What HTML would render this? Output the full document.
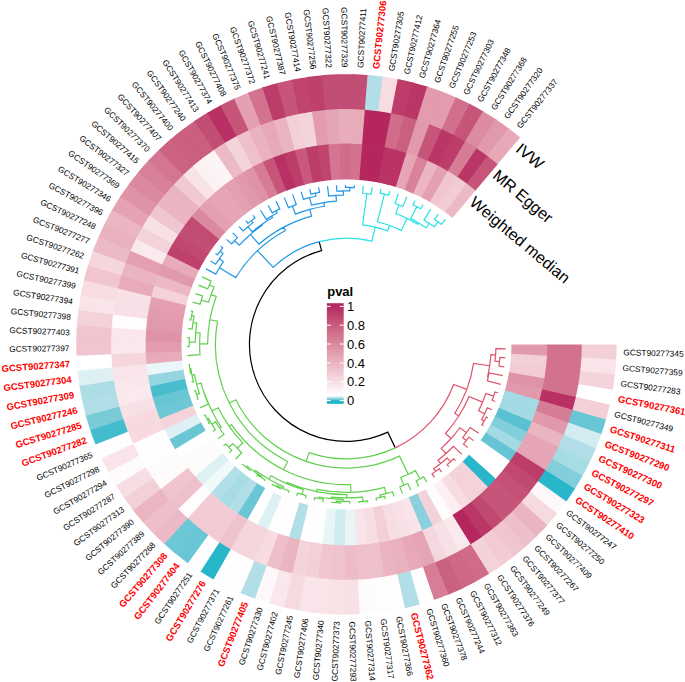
<!DOCTYPE html>
<html><head><meta charset="utf-8"><title>circos heatmap</title>
<style>
html,body{margin:0;padding:0;background:#fff;}
svg{display:block;font-family:"Liberation Sans",sans-serif;}
.l{font-size:8.35px;fill:#000;}
.r{font-size:9.5px;fill:#ff0000;font-weight:bold;}
.t{font-size:16.1px;fill:#000;}
.g{font-size:13px;fill:#000;}
</style></head><body>
<svg width="685" height="682" viewBox="0 0 685 682">
<rect width="685" height="682" fill="#fff"/>
<g transform="translate(346.45,344.4) scale(1,1)">
<g stroke="none">
<path d="M270.20,0.00A270.20,270.20 0 0 1 269.67,16.87L234.24,14.65A234.70,234.70 0 0 0 234.70,0.00Z" fill="#f3cfd7"/>
<path d="M269.77,15.22A270.20,270.20 0 0 1 268.29,32.03L233.04,27.82A234.70,234.70 0 0 0 234.33,13.22Z" fill="#f9e5e9"/>
<path d="M268.49,30.39A270.20,270.20 0 0 1 266.06,47.09L231.11,40.91A234.70,234.70 0 0 0 233.21,26.40Z" fill="#f4d4db"/>
<path d="M266.35,45.47A270.20,270.20 0 0 1 262.99,62.01L228.44,53.86A234.70,234.70 0 0 0 231.35,39.49Z" fill="#ffffff"/>
<path d="M263.36,60.40A270.20,270.20 0 0 1 259.08,76.72L225.04,66.64A234.70,234.70 0 0 0 228.76,52.46Z" fill="#f3cfd7"/>
<path d="M259.54,75.14A270.20,270.20 0 0 1 254.35,91.19L220.93,79.21A234.70,234.70 0 0 0 225.44,65.27Z" fill="#67c5d4"/>
<path d="M254.90,89.64A270.20,270.20 0 0 1 248.80,105.38L216.12,91.53A234.70,234.70 0 0 0 221.41,77.86Z" fill="#d2ecf1"/>
<path d="M249.44,103.85A270.20,270.20 0 0 1 242.47,119.22L210.62,103.56A234.70,234.70 0 0 0 216.67,90.21Z" fill="#b2dfe7"/>
<path d="M243.20,117.74A270.20,270.20 0 0 1 235.37,132.69L204.45,115.26A234.70,234.70 0 0 0 211.25,102.27Z" fill="#a8dce5"/>
<path d="M236.18,131.25A270.20,270.20 0 0 1 227.52,145.74L197.63,126.59A234.70,234.70 0 0 0 205.15,114.01Z" fill="#83cedb"/>
<path d="M228.41,144.35A270.20,270.20 0 0 1 218.95,158.33L190.19,137.52A234.70,234.70 0 0 0 198.40,125.38Z" fill="#28b7ca"/>
<path d="M219.92,156.99A270.20,270.20 0 0 1 209.69,170.41L182.14,148.02A234.70,234.70 0 0 0 191.02,136.36Z" fill="#fef8fa"/>
<path d="M210.72,169.12A270.20,270.20 0 0 1 199.76,181.95L173.51,158.04A234.70,234.70 0 0 0 183.04,146.90Z" fill="#f6dae0"/>
<path d="M200.86,180.73A270.20,270.20 0 0 1 189.19,192.91L164.33,167.57A234.70,234.70 0 0 0 174.47,156.98Z" fill="#eab4c1"/>
<path d="M190.36,191.75A270.20,270.20 0 0 1 178.02,203.26L154.63,176.56A234.70,234.70 0 0 0 165.35,166.56Z" fill="#eebec9"/>
<path d="M179.26,202.17A270.20,270.20 0 0 1 166.29,212.97L144.44,184.99A234.70,234.70 0 0 0 155.71,175.61Z" fill="#f0c5cf"/>
<path d="M167.59,211.95A270.20,270.20 0 0 1 154.03,222.00L133.79,192.83A234.70,234.70 0 0 0 145.57,184.10Z" fill="#f2cbd4"/>
<path d="M155.38,221.05A270.20,270.20 0 0 1 141.28,230.32L122.72,200.06A234.70,234.70 0 0 0 134.97,192.01Z" fill="#f4d2d9"/>
<path d="M142.68,229.45A270.20,270.20 0 0 1 128.08,237.91L111.25,206.66A234.70,234.70 0 0 0 123.94,199.31Z" fill="#d06c89"/>
<path d="M129.53,237.13A270.20,270.20 0 0 1 114.48,244.75L99.44,212.59A234.70,234.70 0 0 0 112.51,205.97Z" fill="#ce6886"/>
<path d="M115.97,244.05A270.20,270.20 0 0 1 100.51,250.81L87.30,217.86A234.70,234.70 0 0 0 100.73,211.98Z" fill="#cb6181"/>
<path d="M102.04,250.19A270.20,270.20 0 0 1 86.22,256.07L74.89,222.43A234.70,234.70 0 0 0 88.63,217.32Z" fill="#d77e96"/>
<path d="M87.78,255.54A270.20,270.20 0 0 1 71.66,260.52L62.24,226.30A234.70,234.70 0 0 0 76.25,221.97Z" fill="#fffefe"/>
<path d="M73.25,260.08A270.20,270.20 0 0 1 56.87,264.15L49.40,229.44A234.70,234.70 0 0 0 63.62,225.91Z" fill="#b2dfe7"/>
<path d="M58.48,263.80A270.20,270.20 0 0 1 41.90,266.93L36.39,231.86A234.70,234.70 0 0 0 50.80,229.14Z" fill="#fffdfd"/>
<path d="M43.53,266.67A270.20,270.20 0 0 1 26.80,268.87L23.28,233.54A234.70,234.70 0 0 0 37.81,231.63Z" fill="#fefcfc"/>
<path d="M28.44,268.70A270.20,270.20 0 0 1 11.61,269.95L10.08,234.48A234.70,234.70 0 0 0 24.70,233.40Z" fill="#fefbfb"/>
<path d="M13.26,269.87A270.20,270.20 0 0 1 -3.62,270.18L-3.14,234.68A234.70,234.70 0 0 0 11.52,234.42Z" fill="#f8e1e6"/>
<path d="M-1.96,270.19A270.20,270.20 0 0 1 -18.83,269.54L-16.35,234.13A234.70,234.70 0 0 0 -1.71,234.69Z" fill="#f8e3e7"/>
<path d="M-17.18,269.65A270.20,270.20 0 0 1 -33.98,268.05L-29.52,232.84A234.70,234.70 0 0 0 -14.92,234.23Z" fill="#f9e5e9"/>
<path d="M-32.34,268.26A270.20,270.20 0 0 1 -49.03,265.71L-42.59,230.80A234.70,234.70 0 0 0 -28.09,233.01Z" fill="#f9e5e9"/>
<path d="M-47.40,266.01A270.20,270.20 0 0 1 -63.92,262.53L-55.52,228.04A234.70,234.70 0 0 0 -41.18,231.06Z" fill="#f6dae0"/>
<path d="M-62.31,262.92A270.20,270.20 0 0 1 -78.60,258.51L-68.28,224.55A234.70,234.70 0 0 0 -54.13,228.37Z" fill="#f9e7eb"/>
<path d="M-77.02,258.99A270.20,270.20 0 0 1 -93.04,253.68L-80.82,220.35A234.70,234.70 0 0 0 -66.90,224.96Z" fill="#fef8fa"/>
<path d="M-91.49,254.24A270.20,270.20 0 0 1 -107.18,248.03L-93.10,215.44A234.70,234.70 0 0 0 -79.47,220.84Z" fill="#b2dfe7"/>
<path d="M-105.67,248.68A270.20,270.20 0 0 1 -120.98,241.60L-105.09,209.86A234.70,234.70 0 0 0 -91.78,216.01Z" fill="#fffdfd"/>
<path d="M-119.51,242.34A270.20,270.20 0 0 1 -134.40,234.40L-116.74,203.61A234.70,234.70 0 0 0 -103.81,210.50Z" fill="#fffefe"/>
<path d="M-132.97,235.22A270.20,270.20 0 0 1 -147.39,226.46L-128.03,196.71A234.70,234.70 0 0 0 -115.50,204.31Z" fill="#28b7ca"/>
<path d="M-146.01,227.35A270.20,270.20 0 0 1 -159.91,217.80L-138.90,189.18A234.70,234.70 0 0 0 -126.82,197.48Z" fill="#fffefe"/>
<path d="M-158.58,218.77A270.20,270.20 0 0 1 -171.93,208.44L-149.34,181.06A234.70,234.70 0 0 0 -137.75,190.03Z" fill="#6ac6d5"/>
<path d="M-170.65,209.49A270.20,270.20 0 0 1 -183.40,198.43L-159.30,172.36A234.70,234.70 0 0 0 -148.23,181.97Z" fill="#6ec7d6"/>
<path d="M-182.18,199.54A270.20,270.20 0 0 1 -194.28,187.78L-168.76,163.11A234.70,234.70 0 0 0 -158.25,173.33Z" fill="#ecbac6"/>
<path d="M-193.13,188.96A270.20,270.20 0 0 1 -204.55,176.54L-177.68,153.34A234.70,234.70 0 0 0 -167.76,164.14Z" fill="#eebec9"/>
<path d="M-203.47,177.79A270.20,270.20 0 0 1 -214.17,164.74L-186.03,143.09A234.70,234.70 0 0 0 -176.74,154.43Z" fill="#ebb6c2"/>
<path d="M-213.16,166.04A270.20,270.20 0 0 1 -223.11,152.41L-193.80,132.39A234.70,234.70 0 0 0 -185.16,144.23Z" fill="#f3cfd7"/>
<path d="M-222.18,153.77A270.20,270.20 0 0 1 -231.34,139.60L-200.95,121.26A234.70,234.70 0 0 0 -192.99,133.57Z" fill="#f7dee4"/>
<path d="M-230.49,141.01A270.20,270.20 0 0 1 -238.84,126.35L-207.46,109.75A234.70,234.70 0 0 0 -200.20,122.48Z" fill="#fefbfb"/>
<path d="M-238.06,127.80A270.20,270.20 0 0 1 -245.58,112.69L-213.31,97.89A234.70,234.70 0 0 0 -206.79,111.01Z" fill="#f9e5e9"/>
<path d="M-244.88,114.19A270.20,270.20 0 0 1 -251.54,98.68L-218.49,85.72A234.70,234.70 0 0 0 -212.71,99.19Z" fill="#fffefe"/>
<path d="M-250.93,100.22A270.20,270.20 0 0 1 -256.69,84.36L-222.97,73.27A234.70,234.70 0 0 0 -217.96,87.05Z" fill="#43bccd"/>
<path d="M-256.17,85.92A270.20,270.20 0 0 1 -261.04,69.76L-226.74,60.60A234.70,234.70 0 0 0 -222.52,74.63Z" fill="#79cbd8"/>
<path d="M-260.61,71.36A270.20,270.20 0 0 1 -264.55,54.95L-229.80,47.73A234.70,234.70 0 0 0 -226.37,61.98Z" fill="#b2dfe7"/>
<path d="M-264.21,56.56A270.20,270.20 0 0 1 -267.23,39.96L-232.12,34.71A234.70,234.70 0 0 0 -229.50,49.13Z" fill="#addee6"/>
<path d="M-266.98,41.59A270.20,270.20 0 0 1 -269.06,24.84L-233.71,21.58A234.70,234.70 0 0 0 -231.90,36.13Z" fill="#ddf1f4"/>
<path d="M-268.90,26.48A270.20,270.20 0 0 1 -270.03,9.65L-234.55,8.38A234.70,234.70 0 0 0 -233.57,23.00Z" fill="#ffffff"/>
<path d="M-269.96,11.30A270.20,270.20 0 0 1 -270.14,-5.58L-234.65,-4.85A234.70,234.70 0 0 0 -234.49,9.81Z" fill="#f0c5cf"/>
<path d="M-270.17,-3.93A270.20,270.20 0 0 1 -269.40,-20.79L-234.00,-18.06A234.70,234.70 0 0 0 -234.68,-3.41Z" fill="#f0c5cf"/>
<path d="M-269.52,-19.14A270.20,270.20 0 0 1 -267.80,-35.93L-232.62,-31.21A234.70,234.70 0 0 0 -234.11,-16.63Z" fill="#f4d2d9"/>
<path d="M-268.01,-34.29A270.20,270.20 0 0 1 -265.35,-50.96L-230.49,-44.26A234.70,234.70 0 0 0 -232.80,-29.79Z" fill="#f9e5e9"/>
<path d="M-265.66,-49.34A270.20,270.20 0 0 1 -262.06,-65.82L-227.63,-57.18A234.70,234.70 0 0 0 -230.75,-42.85Z" fill="#f7dce2"/>
<path d="M-262.46,-64.22A270.20,270.20 0 0 1 -257.94,-80.48L-224.05,-69.91A234.70,234.70 0 0 0 -227.97,-55.78Z" fill="#f0c5cf"/>
<path d="M-258.42,-78.90A270.20,270.20 0 0 1 -252.99,-94.88L-219.75,-82.42A234.70,234.70 0 0 0 -224.47,-68.54Z" fill="#f5d6dd"/>
<path d="M-253.57,-93.34A270.20,270.20 0 0 1 -247.25,-108.98L-214.76,-94.67A234.70,234.70 0 0 0 -220.25,-81.07Z" fill="#ecbac6"/>
<path d="M-247.91,-107.47A270.20,270.20 0 0 1 -240.71,-122.74L-209.09,-106.61A234.70,234.70 0 0 0 -215.34,-93.35Z" fill="#eab1bf"/>
<path d="M-241.46,-121.27A270.20,270.20 0 0 1 -233.42,-136.10L-202.75,-118.22A234.70,234.70 0 0 0 -209.74,-105.33Z" fill="#ebb6c2"/>
<path d="M-234.25,-134.67A270.20,270.20 0 0 1 -225.38,-149.04L-195.77,-129.45A234.70,234.70 0 0 0 -203.47,-116.98Z" fill="#e5a2b3"/>
<path d="M-226.29,-147.66A270.20,270.20 0 0 1 -216.63,-161.49L-188.17,-140.28A234.70,234.70 0 0 0 -196.56,-128.26Z" fill="#df93a7"/>
<path d="M-217.61,-160.17A270.20,270.20 0 0 1 -207.19,-173.44L-179.97,-150.65A234.70,234.70 0 0 0 -189.02,-139.12Z" fill="#db899f"/>
<path d="M-208.24,-172.17A270.20,270.20 0 0 1 -197.09,-184.84L-171.19,-160.55A234.70,234.70 0 0 0 -180.88,-149.55Z" fill="#d88098"/>
<path d="M-198.21,-183.63A270.20,270.20 0 0 1 -186.36,-195.64L-161.88,-169.94A234.70,234.70 0 0 0 -172.17,-159.50Z" fill="#d47691"/>
<path d="M-187.56,-194.50A270.20,270.20 0 0 1 -175.05,-205.83L-152.05,-178.79A234.70,234.70 0 0 0 -162.91,-168.95Z" fill="#cc6383"/>
<path d="M-176.30,-204.76A270.20,270.20 0 0 1 -163.17,-215.36L-141.74,-187.07A234.70,234.70 0 0 0 -153.14,-177.86Z" fill="#ca5f80"/>
<path d="M-164.49,-214.36A270.20,270.20 0 0 1 -150.78,-224.21L-130.97,-194.76A234.70,234.70 0 0 0 -142.88,-186.20Z" fill="#ca5f80"/>
<path d="M-152.15,-223.29A270.20,270.20 0 0 1 -137.91,-232.35L-119.80,-201.82A234.70,234.70 0 0 0 -132.16,-193.95Z" fill="#c34e75"/>
<path d="M-139.33,-231.51A270.20,270.20 0 0 1 -124.61,-239.75L-108.24,-208.25A234.70,234.70 0 0 0 -121.03,-201.09Z" fill="#b83064"/>
<path d="M-126.07,-238.99A270.20,270.20 0 0 1 -110.90,-246.39L-96.33,-214.02A234.70,234.70 0 0 0 -109.51,-207.59Z" fill="#c65579"/>
<path d="M-112.41,-245.71A270.20,270.20 0 0 1 -96.85,-252.25L-84.12,-219.11A234.70,234.70 0 0 0 -97.64,-213.43Z" fill="#e4a0b1"/>
<path d="M-98.39,-251.65A270.20,270.20 0 0 1 -82.49,-257.30L-71.65,-223.50A234.70,234.70 0 0 0 -85.46,-218.59Z" fill="#d2728e"/>
<path d="M-84.06,-256.79A270.20,270.20 0 0 1 -67.86,-261.54L-58.95,-227.18A234.70,234.70 0 0 0 -73.01,-223.05Z" fill="#bc3c6a"/>
<path d="M-69.46,-261.12A270.20,270.20 0 0 1 -53.02,-264.95L-46.06,-230.14A234.70,234.70 0 0 0 -60.33,-226.81Z" fill="#c65579"/>
<path d="M-54.64,-264.62A270.20,270.20 0 0 1 -38.01,-267.51L-33.02,-232.37A234.70,234.70 0 0 0 -47.46,-229.85Z" fill="#bf446e"/>
<path d="M-39.65,-267.28A270.20,270.20 0 0 1 -22.88,-269.23L-19.88,-233.86A234.70,234.70 0 0 0 -34.44,-232.16Z" fill="#be416d"/>
<path d="M-24.53,-269.08A270.20,270.20 0 0 1 -7.68,-270.09L-6.67,-234.61A234.70,234.70 0 0 0 -21.31,-233.73Z" fill="#c34e75"/>
<path d="M-9.33,-270.04A270.20,270.20 0 0 1 7.54,-270.09L6.55,-234.61A234.70,234.70 0 0 0 -8.11,-234.56Z" fill="#c34e75"/>
<path d="M5.89,-270.14A270.20,270.20 0 0 1 22.75,-269.24L19.76,-233.87A234.70,234.70 0 0 0 5.12,-234.64Z" fill="#c34e75"/>
<path d="M21.10,-269.37A270.20,270.20 0 0 1 37.88,-267.53L32.90,-232.38A234.70,234.70 0 0 0 18.33,-233.98Z" fill="#b2dfe7"/>
<path d="M36.24,-267.76A270.20,270.20 0 0 1 52.89,-264.97L45.94,-230.16A234.70,234.70 0 0 0 31.48,-232.58Z" fill="#f7dce2"/>
<path d="M51.27,-265.29A270.20,270.20 0 0 1 67.73,-261.57L58.83,-227.21A234.70,234.70 0 0 0 44.53,-230.44Z" fill="#bc3c6a"/>
<path d="M66.13,-261.98A270.20,270.20 0 0 1 82.36,-257.34L71.54,-223.53A234.70,234.70 0 0 0 57.44,-227.56Z" fill="#ba3667"/>
<path d="M80.78,-257.84A270.20,270.20 0 0 1 96.72,-252.30L84.01,-219.15A234.70,234.70 0 0 0 70.17,-223.97Z" fill="#e29cae"/>
<path d="M95.18,-252.88A270.20,270.20 0 0 1 110.78,-246.45L96.22,-214.07A234.70,234.70 0 0 0 82.67,-219.66Z" fill="#e29cae"/>
<path d="M109.27,-247.12A270.20,270.20 0 0 1 124.49,-239.82L108.13,-208.31A234.70,234.70 0 0 0 94.92,-214.65Z" fill="#d1708c"/>
<path d="M123.02,-240.57A270.20,270.20 0 0 1 137.80,-232.42L119.69,-201.89A234.70,234.70 0 0 0 106.86,-208.96Z" fill="#c65579"/>
<path d="M136.37,-233.26A270.20,270.20 0 0 1 150.67,-224.29L130.87,-194.82A234.70,234.70 0 0 0 118.46,-202.61Z" fill="#dc8ba0"/>
<path d="M149.30,-225.21A270.20,270.20 0 0 1 163.07,-215.45L141.64,-187.14A234.70,234.70 0 0 0 129.68,-195.62Z" fill="#e19aac"/>
<path d="M161.75,-216.44A270.20,270.20 0 0 1 173.68,-206.99L150.86,-179.79A234.70,234.70 0 0 0 140.50,-188.00Z" fill="#e7a9b8"/>
<path d="M235.30,0.00A235.30,235.30 0 0 1 234.84,14.69L199.81,12.50A200.20,200.20 0 0 0 200.20,0.00Z" fill="#d2728e"/>
<path d="M234.93,13.25A235.30,235.30 0 0 1 233.64,27.89L198.79,23.73A200.20,200.20 0 0 0 199.88,11.28Z" fill="#d2728e"/>
<path d="M233.81,26.47A235.30,235.30 0 0 1 231.70,41.01L197.14,34.89A200.20,200.20 0 0 0 198.93,22.52Z" fill="#d2728e"/>
<path d="M231.94,39.59A235.30,235.30 0 0 1 229.02,54.00L194.86,45.94A200.20,200.20 0 0 0 197.35,33.69Z" fill="#d2728e"/>
<path d="M229.35,52.60A235.30,235.30 0 0 1 225.62,66.81L191.96,56.85A200.20,200.20 0 0 0 195.13,44.75Z" fill="#b83064"/>
<path d="M226.02,65.43A235.30,235.30 0 0 1 221.49,79.42L188.45,67.57A200.20,200.20 0 0 0 192.30,55.67Z" fill="#d67c95"/>
<path d="M221.97,78.06A235.30,235.30 0 0 1 216.67,91.77L184.35,78.08A200.20,200.20 0 0 0 188.86,66.42Z" fill="#e19aac"/>
<path d="M217.22,90.44A235.30,235.30 0 0 1 211.16,103.82L179.66,88.34A200.20,200.20 0 0 0 184.82,76.95Z" fill="#eab4c1"/>
<path d="M211.79,102.53A235.30,235.30 0 0 1 204.97,115.55L174.40,98.32A200.20,200.20 0 0 0 180.19,87.24Z" fill="#e5a5b5"/>
<path d="M205.67,114.30A235.30,235.30 0 0 1 198.14,126.92L168.58,107.98A200.20,200.20 0 0 0 174.99,97.25Z" fill="#e5a5b5"/>
<path d="M198.91,125.70A235.30,235.30 0 0 1 190.67,137.88L162.23,117.31A200.20,200.20 0 0 0 169.24,106.95Z" fill="#bc3c6a"/>
<path d="M191.51,136.71A235.30,235.30 0 0 1 182.60,148.40L155.36,126.26A200.20,200.20 0 0 0 162.94,116.32Z" fill="#c14971"/>
<path d="M183.51,147.28A235.30,235.30 0 0 1 173.95,158.45L148.01,134.81A200.20,200.20 0 0 0 156.13,125.31Z" fill="#c45076"/>
<path d="M174.92,157.38A235.30,235.30 0 0 1 164.75,168.00L140.18,142.94A200.20,200.20 0 0 0 148.83,133.91Z" fill="#c65579"/>
<path d="M165.78,166.99A235.30,235.30 0 0 1 155.03,177.01L131.90,150.60A200.20,200.20 0 0 0 141.05,142.08Z" fill="#c65579"/>
<path d="M156.11,176.06A235.30,235.30 0 0 1 144.81,185.46L123.21,157.80A200.20,200.20 0 0 0 132.82,149.80Z" fill="#c14971"/>
<path d="M145.94,184.57A235.30,235.30 0 0 1 134.13,193.32L114.13,164.49A200.20,200.20 0 0 0 124.17,157.04Z" fill="#ba3667"/>
<path d="M135.31,192.50A235.30,235.30 0 0 1 123.03,200.57L104.68,170.65A200.20,200.20 0 0 0 115.13,163.79Z" fill="#b5265f"/>
<path d="M124.25,199.82A235.30,235.30 0 0 1 111.54,207.18L94.90,176.28A200.20,200.20 0 0 0 105.72,170.01Z" fill="#fae9ed"/>
<path d="M112.80,206.50A235.30,235.30 0 0 1 99.69,213.14L84.82,181.34A200.20,200.20 0 0 0 95.97,175.70Z" fill="#f8e1e6"/>
<path d="M100.99,212.53A235.30,235.30 0 0 1 87.53,218.42L74.47,185.83A200.20,200.20 0 0 0 85.93,180.82Z" fill="#f5d8df"/>
<path d="M88.86,217.88A235.30,235.30 0 0 1 75.08,223.00L63.88,189.73A200.20,200.20 0 0 0 75.60,185.38Z" fill="#e5a5b5"/>
<path d="M76.44,222.54A235.30,235.30 0 0 1 62.40,226.87L53.09,193.03A200.20,200.20 0 0 0 65.04,189.34Z" fill="#e7a9b8"/>
<path d="M63.79,226.49A235.30,235.30 0 0 1 49.52,230.03L42.14,195.72A200.20,200.20 0 0 0 54.27,192.70Z" fill="#eab1bf"/>
<path d="M50.93,229.72A235.30,235.30 0 0 1 36.49,232.45L31.04,197.78A200.20,200.20 0 0 0 43.33,195.45Z" fill="#eab4c1"/>
<path d="M37.91,232.23A235.30,235.30 0 0 1 23.34,234.14L19.85,199.21A200.20,200.20 0 0 0 32.25,197.58Z" fill="#eec0cb"/>
<path d="M24.77,233.99A235.30,235.30 0 0 1 10.11,235.08L8.60,200.02A200.20,200.20 0 0 0 21.07,199.09Z" fill="#eec0cb"/>
<path d="M11.55,235.02A235.30,235.30 0 0 1 -3.15,235.28L-2.68,200.18A200.20,200.20 0 0 0 9.82,199.96Z" fill="#edbcc8"/>
<path d="M-1.71,235.29A235.30,235.30 0 0 1 -16.40,234.73L-13.95,199.71A200.20,200.20 0 0 0 -1.46,200.19Z" fill="#efc3cd"/>
<path d="M-14.96,234.82A235.30,235.30 0 0 1 -29.59,233.43L-25.18,198.61A200.20,200.20 0 0 0 -12.73,199.79Z" fill="#f0c5cf"/>
<path d="M-28.17,233.61A235.30,235.30 0 0 1 -42.69,231.39L-36.33,196.88A200.20,200.20 0 0 0 -23.96,198.76Z" fill="#f3cfd7"/>
<path d="M-41.28,231.65A235.30,235.30 0 0 1 -55.66,228.62L-47.36,194.52A200.20,200.20 0 0 0 -35.12,197.09Z" fill="#f4d4db"/>
<path d="M-54.26,228.96A235.30,235.30 0 0 1 -68.45,225.12L-58.24,191.54A200.20,200.20 0 0 0 -46.17,194.80Z" fill="#eab4c1"/>
<path d="M-67.07,225.54A235.30,235.30 0 0 1 -81.02,220.91L-68.94,187.96A200.20,200.20 0 0 0 -57.07,191.89Z" fill="#eebec9"/>
<path d="M-79.67,221.40A235.30,235.30 0 0 1 -93.34,216.00L-79.42,183.77A200.20,200.20 0 0 0 -67.79,188.37Z" fill="#f7dce2"/>
<path d="M-92.02,216.56A235.30,235.30 0 0 1 -105.36,210.39L-89.64,179.01A200.20,200.20 0 0 0 -78.29,184.26Z" fill="#f5d6dd"/>
<path d="M-104.07,211.03A235.30,235.30 0 0 1 -117.04,204.13L-99.58,173.68A200.20,200.20 0 0 0 -88.55,179.55Z" fill="#f5d6dd"/>
<path d="M-115.79,204.84A235.30,235.30 0 0 1 -128.35,197.21L-109.21,167.79A200.20,200.20 0 0 0 -98.52,174.28Z" fill="#efc3cd"/>
<path d="M-127.15,197.99A235.30,235.30 0 0 1 -139.26,189.67L-118.49,161.37A200.20,200.20 0 0 0 -108.18,168.45Z" fill="#f2cbd4"/>
<path d="M-138.10,190.51A235.30,235.30 0 0 1 -149.72,181.52L-127.39,154.44A200.20,200.20 0 0 0 -117.50,162.09Z" fill="#f2cbd4"/>
<path d="M-148.61,182.43A235.30,235.30 0 0 1 -159.71,172.80L-135.89,147.02A200.20,200.20 0 0 0 -126.44,155.22Z" fill="#f2cbd4"/>
<path d="M-158.65,173.77A235.30,235.30 0 0 1 -169.19,163.53L-143.95,139.13A200.20,200.20 0 0 0 -134.98,147.85Z" fill="#fefcfc"/>
<path d="M-168.19,164.56A235.30,235.30 0 0 1 -178.13,153.74L-151.56,130.80A200.20,200.20 0 0 0 -143.10,140.01Z" fill="#eec0cb"/>
<path d="M-177.19,154.82A235.30,235.30 0 0 1 -186.51,143.46L-158.69,122.06A200.20,200.20 0 0 0 -150.76,131.73Z" fill="#f0c5cf"/>
<path d="M-185.63,144.60A235.30,235.30 0 0 1 -194.29,132.72L-165.31,112.93A200.20,200.20 0 0 0 -157.94,123.03Z" fill="#fefbfb"/>
<path d="M-193.48,133.91A235.30,235.30 0 0 1 -201.46,121.57L-171.41,103.43A200.20,200.20 0 0 0 -164.62,113.93Z" fill="#fefbfb"/>
<path d="M-200.72,122.80A235.30,235.30 0 0 1 -207.99,110.03L-176.96,93.62A200.20,200.20 0 0 0 -170.77,104.48Z" fill="#fffdfd"/>
<path d="M-207.31,111.30A235.30,235.30 0 0 1 -213.86,98.14L-181.96,83.50A200.20,200.20 0 0 0 -176.39,94.69Z" fill="#fffefe"/>
<path d="M-213.25,99.44A235.30,235.30 0 0 1 -219.05,85.94L-186.37,73.12A200.20,200.20 0 0 0 -181.44,84.61Z" fill="#f6dae0"/>
<path d="M-218.52,87.27A235.30,235.30 0 0 1 -223.54,73.46L-190.19,62.50A200.20,200.20 0 0 0 -185.92,74.25Z" fill="#f6dae0"/>
<path d="M-223.09,74.82A235.30,235.30 0 0 1 -227.32,60.75L-193.41,51.69A200.20,200.20 0 0 0 -189.81,63.66Z" fill="#f8e1e6"/>
<path d="M-226.95,62.14A235.30,235.30 0 0 1 -230.38,47.85L-196.02,40.71A200.20,200.20 0 0 0 -193.09,52.87Z" fill="#fae9ed"/>
<path d="M-230.09,49.26A235.30,235.30 0 0 1 -232.71,34.80L-198.00,29.61A200.20,200.20 0 0 0 -195.76,41.91Z" fill="#f9e7eb"/>
<path d="M-232.50,36.22A235.30,235.30 0 0 1 -234.30,21.63L-199.35,18.41A200.20,200.20 0 0 0 -197.81,30.81Z" fill="#f9e5e9"/>
<path d="M-234.17,23.06A235.30,235.30 0 0 1 -235.15,8.40L-200.07,7.15A200.20,200.20 0 0 0 -199.24,19.62Z" fill="#f5d6dd"/>
<path d="M-235.09,9.84A235.30,235.30 0 0 1 -235.25,-4.86L-200.16,-4.13A200.20,200.20 0 0 0 -200.02,8.37Z" fill="#f9e7eb"/>
<path d="M-235.28,-3.42A235.30,235.30 0 0 1 -234.60,-18.10L-199.61,-15.40A200.20,200.20 0 0 0 -200.18,-2.91Z" fill="#f9e7eb"/>
<path d="M-234.71,-16.67A235.30,235.30 0 0 1 -233.21,-31.29L-198.42,-26.62A200.20,200.20 0 0 0 -199.70,-14.18Z" fill="#fefcfc"/>
<path d="M-233.40,-29.86A235.30,235.30 0 0 1 -231.08,-44.38L-196.61,-37.76A200.20,200.20 0 0 0 -198.58,-25.41Z" fill="#f8e1e6"/>
<path d="M-231.34,-42.96A235.30,235.30 0 0 1 -228.21,-57.32L-194.17,-48.77A200.20,200.20 0 0 0 -196.83,-36.56Z" fill="#f8e1e6"/>
<path d="M-228.56,-55.93A235.30,235.30 0 0 1 -224.62,-70.09L-191.11,-59.63A200.20,200.20 0 0 0 -194.46,-47.58Z" fill="#e7abba"/>
<path d="M-225.04,-68.71A235.30,235.30 0 0 1 -220.31,-82.63L-187.45,-70.30A200.20,200.20 0 0 0 -191.47,-58.46Z" fill="#eab4c1"/>
<path d="M-220.82,-81.28A235.30,235.30 0 0 1 -215.31,-94.91L-183.19,-80.75A200.20,200.20 0 0 0 -187.88,-69.16Z" fill="#e4a0b1"/>
<path d="M-215.89,-93.59A235.30,235.30 0 0 1 -209.62,-106.88L-178.35,-90.94A200.20,200.20 0 0 0 -183.68,-79.63Z" fill="#fae9ed"/>
<path d="M-210.27,-105.60A235.30,235.30 0 0 1 -203.27,-118.52L-172.95,-100.84A200.20,200.20 0 0 0 -178.91,-89.85Z" fill="#f4d2d9"/>
<path d="M-203.99,-117.28A235.30,235.30 0 0 1 -196.27,-129.79L-166.99,-110.42A200.20,200.20 0 0 0 -173.56,-99.78Z" fill="#f8e1e6"/>
<path d="M-197.06,-128.58A235.30,235.30 0 0 1 -188.65,-140.63L-160.51,-119.66A200.20,200.20 0 0 0 -167.66,-109.40Z" fill="#f0c7d0"/>
<path d="M-189.50,-139.48A235.30,235.30 0 0 1 -180.43,-151.04L-153.51,-128.51A200.20,200.20 0 0 0 -161.23,-118.67Z" fill="#ebb6c2"/>
<path d="M-181.35,-149.93A235.30,235.30 0 0 1 -171.63,-160.96L-146.03,-136.95A200.20,200.20 0 0 0 -154.29,-127.57Z" fill="#eab4c1"/>
<path d="M-172.61,-159.91A235.30,235.30 0 0 1 -162.29,-170.37L-138.08,-144.96A200.20,200.20 0 0 0 -146.86,-136.06Z" fill="#f1c9d2"/>
<path d="M-163.33,-169.38A235.30,235.30 0 0 1 -152.44,-179.25L-129.70,-152.51A200.20,200.20 0 0 0 -138.97,-144.11Z" fill="#f8e3e7"/>
<path d="M-153.53,-178.31A235.30,235.30 0 0 1 -142.10,-187.55L-120.90,-159.57A200.20,200.20 0 0 0 -130.63,-151.71Z" fill="#fcf2f4"/>
<path d="M-143.24,-186.68A235.30,235.30 0 0 1 -131.31,-195.25L-111.72,-166.13A200.20,200.20 0 0 0 -121.87,-158.83Z" fill="#fdf4f6"/>
<path d="M-132.50,-194.45A235.30,235.30 0 0 1 -120.10,-202.34L-102.19,-172.16A200.20,200.20 0 0 0 -112.73,-165.44Z" fill="#ecbac6"/>
<path d="M-121.34,-201.60A235.30,235.30 0 0 1 -108.51,-208.78L-92.33,-177.64A200.20,200.20 0 0 0 -103.24,-171.53Z" fill="#f4d4db"/>
<path d="M-109.79,-208.12A235.30,235.30 0 0 1 -96.58,-214.57L-82.17,-182.56A200.20,200.20 0 0 0 -93.41,-177.07Z" fill="#eec0cb"/>
<path d="M-97.89,-213.97A235.30,235.30 0 0 1 -84.34,-219.67L-71.76,-186.90A200.20,200.20 0 0 0 -83.29,-182.05Z" fill="#eab1bf"/>
<path d="M-85.68,-219.15A235.30,235.30 0 0 1 -71.83,-224.07L-61.12,-190.64A200.20,200.20 0 0 0 -72.90,-186.46Z" fill="#e7a9b8"/>
<path d="M-73.20,-223.62A235.30,235.30 0 0 1 -59.10,-227.76L-50.28,-193.78A200.20,200.20 0 0 0 -62.28,-190.27Z" fill="#eab4c1"/>
<path d="M-60.49,-227.39A235.30,235.30 0 0 1 -46.17,-230.73L-39.29,-196.31A200.20,200.20 0 0 0 -51.46,-193.47Z" fill="#f3cfd7"/>
<path d="M-47.58,-230.44A235.30,235.30 0 0 1 -33.10,-232.96L-28.17,-198.21A200.20,200.20 0 0 0 -40.48,-196.06Z" fill="#f4d4db"/>
<path d="M-34.53,-232.75A235.30,235.30 0 0 1 -19.93,-234.45L-16.96,-199.48A200.20,200.20 0 0 0 -29.38,-198.03Z" fill="#e29cae"/>
<path d="M-21.36,-234.33A235.30,235.30 0 0 1 -6.69,-235.20L-5.69,-200.12A200.20,200.20 0 0 0 -18.17,-199.37Z" fill="#e5a5b5"/>
<path d="M-8.13,-235.16A235.30,235.30 0 0 1 6.57,-235.21L5.59,-200.12A200.20,200.20 0 0 0 -6.91,-200.08Z" fill="#e8adbb"/>
<path d="M5.13,-235.24A235.30,235.30 0 0 1 19.81,-234.46L16.85,-199.49A200.20,200.20 0 0 0 4.37,-200.15Z" fill="#e7abba"/>
<path d="M18.38,-234.58A235.30,235.30 0 0 1 32.98,-232.98L28.06,-198.22A200.20,200.20 0 0 0 15.63,-199.59Z" fill="#b5265f"/>
<path d="M31.56,-233.17A235.30,235.30 0 0 1 46.06,-230.75L39.19,-196.33A200.20,200.20 0 0 0 26.85,-198.39Z" fill="#b5265f"/>
<path d="M44.65,-231.03A235.30,235.30 0 0 1 58.98,-227.79L50.18,-193.81A200.20,200.20 0 0 0 37.99,-196.56Z" fill="#d06d8a"/>
<path d="M57.59,-228.14A235.30,235.30 0 0 1 71.72,-224.10L61.02,-190.67A200.20,200.20 0 0 0 49.00,-194.11Z" fill="#ca5f80"/>
<path d="M70.35,-224.54A235.30,235.30 0 0 1 84.23,-219.71L71.66,-186.93A200.20,200.20 0 0 0 59.85,-191.04Z" fill="#e19aac"/>
<path d="M82.88,-220.22A235.30,235.30 0 0 1 96.47,-214.61L82.08,-182.60A200.20,200.20 0 0 0 70.52,-187.37Z" fill="#c65579"/>
<path d="M95.16,-215.20A235.30,235.30 0 0 1 108.41,-208.84L92.24,-177.69A200.20,200.20 0 0 0 80.96,-183.10Z" fill="#ba3667"/>
<path d="M107.13,-209.50A235.30,235.30 0 0 1 120.00,-202.40L102.10,-172.21A200.20,200.20 0 0 0 91.15,-178.25Z" fill="#bc3c6a"/>
<path d="M118.76,-203.13A235.30,235.30 0 0 1 131.21,-195.32L111.64,-166.18A200.20,200.20 0 0 0 101.04,-172.83Z" fill="#d67c95"/>
<path d="M130.01,-196.12A235.30,235.30 0 0 1 142.00,-187.62L120.82,-159.63A200.20,200.20 0 0 0 110.62,-166.86Z" fill="#ba3667"/>
<path d="M140.85,-188.48A235.30,235.30 0 0 1 151.25,-180.25L128.69,-153.36A200.20,200.20 0 0 0 119.84,-160.37Z" fill="#c65579"/>
<path d="M200.80,0.00A200.80,200.80 0 0 1 200.41,12.54L164.68,10.30A165.00,165.00 0 0 0 165.00,0.00Z" fill="#e19aac"/>
<path d="M200.48,11.31A200.80,200.80 0 0 1 199.38,23.80L163.84,19.56A165.00,165.00 0 0 0 164.74,9.29Z" fill="#f3cfd7"/>
<path d="M199.53,22.59A200.80,200.80 0 0 1 197.73,35.00L162.47,28.76A165.00,165.00 0 0 0 163.95,18.56Z" fill="#f2cbd4"/>
<path d="M197.94,33.79A200.80,200.80 0 0 1 195.44,46.08L160.60,37.86A165.00,165.00 0 0 0 162.65,27.77Z" fill="#df93a7"/>
<path d="M195.72,44.89A200.80,200.80 0 0 1 192.54,57.02L158.21,46.85A165.00,165.00 0 0 0 160.82,36.88Z" fill="#e19aac"/>
<path d="M192.88,55.84A200.80,200.80 0 0 1 189.02,67.77L155.32,55.69A165.00,165.00 0 0 0 158.49,45.88Z" fill="#a3dae3"/>
<path d="M189.43,66.62A200.80,200.80 0 0 1 184.90,78.31L151.93,64.35A165.00,165.00 0 0 0 155.66,54.74Z" fill="#a3dae3"/>
<path d="M185.37,77.18A200.80,200.80 0 0 1 180.20,88.60L148.07,72.81A165.00,165.00 0 0 0 152.33,63.42Z" fill="#59c1d1"/>
<path d="M180.73,87.50A200.80,200.80 0 0 1 174.92,98.61L143.73,81.03A165.00,165.00 0 0 0 148.51,71.90Z" fill="#83cedb"/>
<path d="M175.52,97.54A200.80,200.80 0 0 1 169.09,108.31L138.94,89.00A165.00,165.00 0 0 0 144.22,80.15Z" fill="#a3dae3"/>
<path d="M169.74,107.27A200.80,200.80 0 0 1 162.72,117.66L133.71,96.68A165.00,165.00 0 0 0 139.48,88.15Z" fill="#64c4d3"/>
<path d="M163.43,116.66A200.80,200.80 0 0 1 155.83,126.64L128.05,104.06A165.00,165.00 0 0 0 134.29,95.86Z" fill="#ffffff"/>
<path d="M156.60,125.69A200.80,200.80 0 0 1 148.45,135.22L121.98,111.11A165.00,165.00 0 0 0 128.68,103.28Z" fill="#ffffff"/>
<path d="M149.27,134.31A200.80,200.80 0 0 1 140.60,143.36L115.53,117.80A165.00,165.00 0 0 0 122.66,110.36Z" fill="#28b7ca"/>
<path d="M141.47,142.50A200.80,200.80 0 0 1 132.30,151.06L108.71,124.12A165.00,165.00 0 0 0 116.25,117.10Z" fill="#f4d2d9"/>
<path d="M133.22,150.25A200.80,200.80 0 0 1 123.58,158.27L101.55,130.05A165.00,165.00 0 0 0 109.47,123.46Z" fill="#f4d2d9"/>
<path d="M124.54,157.51A200.80,200.80 0 0 1 114.47,164.98L94.06,135.56A165.00,165.00 0 0 0 102.34,129.43Z" fill="#f7dce2"/>
<path d="M115.47,164.28A200.80,200.80 0 0 1 104.99,171.16L86.27,140.65A165.00,165.00 0 0 0 94.89,134.99Z" fill="#fcf0f2"/>
<path d="M106.04,170.52A200.80,200.80 0 0 1 95.18,176.81L78.21,145.28A165.00,165.00 0 0 0 87.13,140.12Z" fill="#fefcfc"/>
<path d="M96.26,176.22A200.80,200.80 0 0 1 85.07,181.89L69.91,149.46A165.00,165.00 0 0 0 79.10,144.80Z" fill="#f4d2d9"/>
<path d="M86.18,181.36A200.80,200.80 0 0 1 74.69,186.39L61.38,153.16A165.00,165.00 0 0 0 70.82,149.03Z" fill="#8bd1dd"/>
<path d="M75.83,185.93A200.80,200.80 0 0 1 64.07,190.30L52.65,156.37A165.00,165.00 0 0 0 62.31,152.78Z" fill="#f9e5e9"/>
<path d="M65.24,189.91A200.80,200.80 0 0 1 53.25,193.61L43.76,159.09A165.00,165.00 0 0 0 53.61,156.05Z" fill="#f8e1e6"/>
<path d="M54.43,193.28A200.80,200.80 0 0 1 42.26,196.30L34.73,161.30A165.00,165.00 0 0 0 44.73,158.82Z" fill="#f7dee4"/>
<path d="M43.46,196.04A200.80,200.80 0 0 1 31.14,198.37L25.59,163.00A165.00,165.00 0 0 0 35.71,161.09Z" fill="#f3cfd7"/>
<path d="M32.35,198.18A200.80,200.80 0 0 1 19.91,199.81L16.36,164.19A165.00,165.00 0 0 0 26.58,162.84Z" fill="#f7dee4"/>
<path d="M21.13,199.68A200.80,200.80 0 0 1 8.63,200.61L7.09,164.85A165.00,165.00 0 0 0 17.37,164.08Z" fill="#f9e5e9"/>
<path d="M9.85,200.56A200.80,200.80 0 0 1 -2.69,200.78L-2.21,164.99A165.00,165.00 0 0 0 8.10,164.80Z" fill="#e7f5f7"/>
<path d="M-1.46,200.79A200.80,200.80 0 0 1 -13.99,200.31L-11.50,164.60A165.00,165.00 0 0 0 -1.20,165.00Z" fill="#ceebf0"/>
<path d="M-12.77,200.39A200.80,200.80 0 0 1 -25.25,199.21L-20.75,163.69A165.00,165.00 0 0 0 -10.49,164.67Z" fill="#e7f5f7"/>
<path d="M-24.04,199.36A200.80,200.80 0 0 1 -36.43,197.47L-29.94,162.26A165.00,165.00 0 0 0 -19.75,163.81Z" fill="#ffffff"/>
<path d="M-35.23,197.69A200.80,200.80 0 0 1 -47.50,195.10L-39.03,160.32A165.00,165.00 0 0 0 -28.95,162.44Z" fill="#fffefe"/>
<path d="M-46.31,195.39A200.80,200.80 0 0 1 -58.41,192.12L-48.00,157.86A165.00,165.00 0 0 0 -38.05,160.55Z" fill="#b2dfe7"/>
<path d="M-57.24,192.47A200.80,200.80 0 0 1 -69.14,188.52L-56.82,154.91A165.00,165.00 0 0 0 -47.04,158.15Z" fill="#fffefe"/>
<path d="M-67.99,188.94A200.80,200.80 0 0 1 -79.65,184.33L-65.45,151.46A165.00,165.00 0 0 0 -55.87,155.25Z" fill="#fffefe"/>
<path d="M-78.53,184.81A200.80,200.80 0 0 1 -89.91,179.55L-73.88,147.54A165.00,165.00 0 0 0 -64.53,151.86Z" fill="#ddf1f4"/>
<path d="M-88.81,180.09A200.80,200.80 0 0 1 -99.88,174.20L-82.07,143.14A165.00,165.00 0 0 0 -72.98,147.98Z" fill="#ffffff"/>
<path d="M-98.82,174.80A200.80,200.80 0 0 1 -109.53,168.29L-90.01,138.29A165.00,165.00 0 0 0 -81.20,143.64Z" fill="#6ac6d5"/>
<path d="M-108.50,168.96A200.80,200.80 0 0 1 -118.84,161.86L-97.65,133.00A165.00,165.00 0 0 0 -89.16,138.84Z" fill="#b2dfe7"/>
<path d="M-117.85,162.58A200.80,200.80 0 0 1 -127.77,154.91L-104.99,127.29A165.00,165.00 0 0 0 -96.84,133.59Z" fill="#a8dce5"/>
<path d="M-126.82,155.68A200.80,200.80 0 0 1 -136.29,147.46L-111.99,121.17A165.00,165.00 0 0 0 -104.21,127.93Z" fill="#b2dfe7"/>
<path d="M-135.39,148.29A200.80,200.80 0 0 1 -144.38,139.55L-118.64,114.67A165.00,165.00 0 0 0 -111.25,121.85Z" fill="#f1f9fb"/>
<path d="M-143.53,140.43A200.80,200.80 0 0 1 -152.01,131.20L-124.91,107.81A165.00,165.00 0 0 0 -117.94,115.39Z" fill="#ddf1f4"/>
<path d="M-151.21,132.12A200.80,200.80 0 0 1 -159.16,122.42L-130.79,100.60A165.00,165.00 0 0 0 -124.25,108.57Z" fill="#fefbfb"/>
<path d="M-158.41,123.39A200.80,200.80 0 0 1 -165.81,113.26L-136.25,93.07A165.00,165.00 0 0 0 -130.17,101.39Z" fill="#fefbfb"/>
<path d="M-165.11,114.28A200.80,200.80 0 0 1 -171.92,103.74L-141.27,85.25A165.00,165.00 0 0 0 -135.67,93.90Z" fill="#ffffff"/>
<path d="M-171.29,104.79A200.80,200.80 0 0 1 -177.49,93.90L-145.85,77.16A165.00,165.00 0 0 0 -140.75,86.11Z" fill="#6ac6d5"/>
<path d="M-176.92,94.98A200.80,200.80 0 0 1 -182.50,83.75L-149.96,68.82A165.00,165.00 0 0 0 -145.38,78.04Z" fill="#ddf1f4"/>
<path d="M-181.99,84.86A200.80,200.80 0 0 1 -186.93,73.34L-153.60,60.26A165.00,165.00 0 0 0 -149.54,69.73Z" fill="#f4d4db"/>
<path d="M-186.48,74.48A200.80,200.80 0 0 1 -190.76,62.69L-156.75,51.51A165.00,165.00 0 0 0 -153.23,61.20Z" fill="#6ec7d6"/>
<path d="M-190.38,63.85A200.80,200.80 0 0 1 -193.99,51.84L-159.41,42.60A165.00,165.00 0 0 0 -156.44,52.47Z" fill="#67c5d4"/>
<path d="M-193.67,53.03A200.80,200.80 0 0 1 -196.60,40.83L-161.55,33.55A165.00,165.00 0 0 0 -159.14,43.57Z" fill="#48bdce"/>
<path d="M-196.35,42.03A200.80,200.80 0 0 1 -198.59,29.69L-163.19,24.40A165.00,165.00 0 0 0 -161.34,34.54Z" fill="#95d5e0"/>
<path d="M-198.41,30.91A200.80,200.80 0 0 1 -199.95,18.46L-164.30,15.17A165.00,165.00 0 0 0 -163.03,25.40Z" fill="#eaf6f9"/>
<path d="M-199.83,19.68A200.80,200.80 0 0 1 -200.67,7.17L-164.89,5.89A165.00,165.00 0 0 0 -164.21,16.17Z" fill="#e7abba"/>
<path d="M-200.62,8.39A200.80,200.80 0 0 1 -200.76,-4.15L-164.96,-3.41A165.00,165.00 0 0 0 -164.86,6.90Z" fill="#e29cae"/>
<path d="M-200.78,-2.92A200.80,200.80 0 0 1 -200.20,-15.45L-164.51,-12.69A165.00,165.00 0 0 0 -164.98,-2.40Z" fill="#df93a7"/>
<path d="M-200.30,-14.23A200.80,200.80 0 0 1 -199.02,-26.70L-163.53,-21.94A165.00,165.00 0 0 0 -164.59,-11.69Z" fill="#e19aac"/>
<path d="M-199.18,-25.49A200.80,200.80 0 0 1 -197.20,-37.87L-162.04,-31.12A165.00,165.00 0 0 0 -163.67,-20.94Z" fill="#e29cae"/>
<path d="M-197.42,-36.66A200.80,200.80 0 0 1 -194.75,-48.92L-160.03,-40.20A165.00,165.00 0 0 0 -162.23,-30.13Z" fill="#e4a0b1"/>
<path d="M-195.05,-47.73A200.80,200.80 0 0 1 -191.69,-59.81L-157.51,-49.15A165.00,165.00 0 0 0 -160.27,-39.22Z" fill="#f4d2d9"/>
<path d="M-192.05,-58.64A200.80,200.80 0 0 1 -188.01,-70.51L-154.49,-57.94A165.00,165.00 0 0 0 -157.81,-48.18Z" fill="#ecb8c4"/>
<path d="M-188.44,-69.36A200.80,200.80 0 0 1 -183.74,-80.99L-150.98,-66.55A165.00,165.00 0 0 0 -154.84,-57.00Z" fill="#e19aac"/>
<path d="M-184.23,-79.87A200.80,200.80 0 0 1 -178.89,-91.21L-146.99,-74.95A165.00,165.00 0 0 0 -151.39,-65.63Z" fill="#e7abba"/>
<path d="M-179.44,-90.12A200.80,200.80 0 0 1 -173.47,-101.15L-142.54,-83.11A165.00,165.00 0 0 0 -147.45,-74.05Z" fill="#be416d"/>
<path d="M-174.08,-100.08A200.80,200.80 0 0 1 -167.49,-110.76L-137.63,-91.01A165.00,165.00 0 0 0 -143.04,-82.24Z" fill="#c14971"/>
<path d="M-168.17,-109.73A200.80,200.80 0 0 1 -160.99,-120.01L-132.29,-98.62A165.00,165.00 0 0 0 -138.18,-90.17Z" fill="#c34e75"/>
<path d="M-161.72,-119.03A200.80,200.80 0 0 1 -153.97,-128.89L-126.52,-105.91A165.00,165.00 0 0 0 -132.89,-97.81Z" fill="#c24b73"/>
<path d="M-154.76,-127.95A200.80,200.80 0 0 1 -146.47,-137.36L-120.35,-112.87A165.00,165.00 0 0 0 -127.17,-105.14Z" fill="#db899f"/>
<path d="M-147.30,-136.46A200.80,200.80 0 0 1 -138.50,-145.39L-113.80,-119.47A165.00,165.00 0 0 0 -121.04,-112.13Z" fill="#e4a0b1"/>
<path d="M-139.38,-144.54A200.80,200.80 0 0 1 -130.09,-152.96L-106.89,-125.69A165.00,165.00 0 0 0 -114.53,-118.77Z" fill="#e5a5b5"/>
<path d="M-131.02,-152.17A200.80,200.80 0 0 1 -121.26,-160.05L-99.64,-131.51A165.00,165.00 0 0 0 -107.66,-125.04Z" fill="#e5a5b5"/>
<path d="M-122.24,-159.31A200.80,200.80 0 0 1 -112.06,-166.63L-92.08,-136.92A165.00,165.00 0 0 0 -100.45,-130.90Z" fill="#e4a0b1"/>
<path d="M-113.07,-165.94A200.80,200.80 0 0 1 -102.49,-172.67L-84.22,-141.89A165.00,165.00 0 0 0 -92.91,-136.35Z" fill="#e19aac"/>
<path d="M-103.54,-172.04A200.80,200.80 0 0 1 -92.60,-178.17L-76.09,-146.41A165.00,165.00 0 0 0 -85.08,-141.37Z" fill="#df93a7"/>
<path d="M-93.69,-177.60A200.80,200.80 0 0 1 -82.42,-183.11L-67.72,-150.46A165.00,165.00 0 0 0 -76.99,-145.94Z" fill="#d67c95"/>
<path d="M-83.54,-182.60A200.80,200.80 0 0 1 -71.97,-187.46L-59.14,-154.04A165.00,165.00 0 0 0 -68.64,-150.04Z" fill="#c65579"/>
<path d="M-73.12,-187.01A200.80,200.80 0 0 1 -61.30,-191.21L-50.37,-157.12A165.00,165.00 0 0 0 -60.08,-153.67Z" fill="#b83064"/>
<path d="M-62.47,-190.84A200.80,200.80 0 0 1 -50.43,-194.36L-41.44,-159.71A165.00,165.00 0 0 0 -51.33,-156.81Z" fill="#bc3c6a"/>
<path d="M-51.62,-194.05A200.80,200.80 0 0 1 -39.40,-196.90L-32.38,-161.79A165.00,165.00 0 0 0 -42.42,-159.46Z" fill="#c8597c"/>
<path d="M-40.61,-196.65A200.80,200.80 0 0 1 -28.25,-198.80L-23.21,-163.36A165.00,165.00 0 0 0 -33.37,-161.59Z" fill="#bc3c6a"/>
<path d="M-29.46,-198.63A200.80,200.80 0 0 1 -17.01,-200.08L-13.97,-164.41A165.00,165.00 0 0 0 -24.21,-163.21Z" fill="#bf446e"/>
<path d="M-18.23,-199.97A200.80,200.80 0 0 1 -5.71,-200.72L-4.69,-164.93A165.00,165.00 0 0 0 -14.98,-164.32Z" fill="#d47691"/>
<path d="M-6.93,-200.68A200.80,200.80 0 0 1 5.61,-200.72L4.61,-164.94A165.00,165.00 0 0 0 -5.70,-164.90Z" fill="#d06d8a"/>
<path d="M4.38,-200.75A200.80,200.80 0 0 1 16.90,-200.09L13.89,-164.41A165.00,165.00 0 0 0 3.60,-164.96Z" fill="#d2728e"/>
<path d="M15.68,-200.19A200.80,200.80 0 0 1 28.15,-198.82L23.13,-163.37A165.00,165.00 0 0 0 12.89,-164.50Z" fill="#b5265f"/>
<path d="M26.93,-198.99A200.80,200.80 0 0 1 39.30,-196.92L32.30,-161.81A165.00,165.00 0 0 0 22.13,-163.51Z" fill="#b5265f"/>
<path d="M38.10,-197.15A200.80,200.80 0 0 1 50.33,-194.39L41.36,-159.73A165.00,165.00 0 0 0 31.31,-162.00Z" fill="#b93365"/>
<path d="M49.14,-194.69A200.80,200.80 0 0 1 61.20,-191.25L50.29,-157.15A165.00,165.00 0 0 0 40.38,-159.98Z" fill="#b93365"/>
<path d="M60.03,-191.62A200.80,200.80 0 0 1 71.88,-187.49L59.06,-154.07A165.00,165.00 0 0 0 49.33,-157.45Z" fill="#e5a5b5"/>
<path d="M70.73,-187.93A200.80,200.80 0 0 1 82.33,-183.15L67.65,-150.49A165.00,165.00 0 0 0 58.12,-154.42Z" fill="#d9829a"/>
<path d="M81.21,-183.65A200.80,200.80 0 0 1 92.51,-178.22L76.02,-146.45A165.00,165.00 0 0 0 66.73,-150.91Z" fill="#ebb6c2"/>
<path d="M91.42,-178.78A200.80,200.80 0 0 1 102.40,-172.73L84.15,-141.93A165.00,165.00 0 0 0 75.12,-146.91Z" fill="#e4a0b1"/>
<path d="M101.35,-173.35A200.80,200.80 0 0 1 111.97,-166.68L92.01,-136.97A165.00,165.00 0 0 0 83.28,-142.44Z" fill="#f0c7d0"/>
<path d="M110.95,-167.36A200.80,200.80 0 0 1 121.18,-160.11L99.58,-131.57A165.00,165.00 0 0 0 91.17,-137.52Z" fill="#f2cdd6"/>
<path d="M120.20,-160.85A200.80,200.80 0 0 1 129.07,-153.82L106.06,-126.40A165.00,165.00 0 0 0 98.77,-132.17Z" fill="#ecbac6"/>
</g>
<text class="l" transform="translate(276.89,7.80) rotate(1.61)" dy="0.35em">GCST90277345</text>
<text class="l" transform="translate(276.01,23.39) rotate(4.84)" dy="0.35em">GCST90277359</text>
<text class="l" transform="translate(274.25,38.90) rotate(8.07)" dy="0.35em">GCST90277283</text>
<text class="r" transform="translate(271.63,54.29) rotate(11.30)" dy="0.35em">GCST90277361</text>
<text class="l" transform="translate(268.14,69.50) rotate(14.53)" dy="0.35em">GCST90277349</text>
<text class="r" transform="translate(263.80,84.50) rotate(17.76)" dy="0.35em">GCST90277311</text>
<text class="r" transform="translate(258.62,99.22) rotate(20.99)" dy="0.35em">GCST90277290</text>
<text class="r" transform="translate(252.62,113.63) rotate(24.22)" dy="0.35em">GCST90277300</text>
<text class="r" transform="translate(245.82,127.68) rotate(27.45)" dy="0.35em">GCST90277297</text>
<text class="r" transform="translate(238.24,141.33) rotate(30.68)" dy="0.35em">GCST90277323</text>
<text class="r" transform="translate(229.90,154.52) rotate(33.91)" dy="0.35em">GCST90277410</text>
<text class="l" transform="translate(220.83,167.23) rotate(37.14)" dy="0.35em">GCST90277247</text>
<text class="l" transform="translate(211.06,179.40) rotate(40.36)" dy="0.35em">GCST90277250</text>
<text class="l" transform="translate(200.62,191.00) rotate(43.59)" dy="0.35em">GCST90277409</text>
<text class="l" transform="translate(189.54,202.00) rotate(46.82)" dy="0.35em">GCST90277267</text>
<text class="l" transform="translate(177.86,212.36) rotate(50.05)" dy="0.35em">GCST90277377</text>
<text class="l" transform="translate(165.61,222.04) rotate(53.28)" dy="0.35em">GCST90277249</text>
<text class="l" transform="translate(152.84,231.01) rotate(56.51)" dy="0.35em">GCST90277376</text>
<text class="l" transform="translate(139.59,239.26) rotate(59.74)" dy="0.35em">GCST90277363</text>
<text class="l" transform="translate(125.89,246.74) rotate(62.97)" dy="0.35em">GCST90277312</text>
<text class="l" transform="translate(111.79,253.44) rotate(66.20)" dy="0.35em">GCST90277244</text>
<text class="l" transform="translate(97.34,259.33) rotate(69.43)" dy="0.35em">GCST90277378</text>
<text class="l" transform="translate(82.57,264.41) rotate(72.66)" dy="0.35em">GCST90277360</text>
<text class="r" transform="translate(67.55,268.64) rotate(75.89)" dy="0.35em">GCST90277362</text>
<text class="l" transform="translate(52.31,272.02) rotate(79.11)" dy="0.35em">GCST90277366</text>
<text class="l" transform="translate(36.90,274.53) rotate(82.34)" dy="0.35em">GCST90277317</text>
<text class="l" transform="translate(21.38,276.17) rotate(85.57)" dy="0.35em">GCST90277314</text>
<text class="l" transform="translate(5.79,276.94) rotate(88.80)" dy="0.35em">GCST90277293</text>
<text class="l" transform="translate(-9.82,276.83) rotate(272.03)" text-anchor="end" dy="0.35em">GCST90277373</text>
<text class="l" transform="translate(-25.40,275.83) rotate(275.26)" text-anchor="end" dy="0.35em">GCST90277340</text>
<text class="l" transform="translate(-40.89,273.96) rotate(278.49)" text-anchor="end" dy="0.35em">GCST90277406</text>
<text class="l" transform="translate(-56.26,271.23) rotate(281.72)" text-anchor="end" dy="0.35em">GCST90277245</text>
<text class="l" transform="translate(-71.45,267.63) rotate(284.95)" text-anchor="end" dy="0.35em">GCST90277402</text>
<text class="l" transform="translate(-86.41,263.18) rotate(288.18)" text-anchor="end" dy="0.35em">GCST90277330</text>
<text class="r" transform="translate(-101.10,257.89) rotate(291.41)" text-anchor="end" dy="0.35em">GCST90277405</text>
<text class="l" transform="translate(-115.47,251.79) rotate(294.64)" text-anchor="end" dy="0.35em">GCST90277261</text>
<text class="l" transform="translate(-129.47,244.88) rotate(297.86)" text-anchor="end" dy="0.35em">GCST90277371</text>
<text class="r" transform="translate(-143.05,237.20) rotate(301.09)" text-anchor="end" dy="0.35em">GCST90277276</text>
<text class="l" transform="translate(-156.19,228.77) rotate(304.32)" text-anchor="end" dy="0.35em">GCST90277251</text>
<text class="r" transform="translate(-168.83,219.61) rotate(307.55)" text-anchor="end" dy="0.35em">GCST90277404</text>
<text class="r" transform="translate(-180.93,209.75) rotate(310.78)" text-anchor="end" dy="0.35em">GCST90277308</text>
<text class="l" transform="translate(-192.46,199.22) rotate(314.01)" text-anchor="end" dy="0.35em">GCST90277268</text>
<text class="l" transform="translate(-203.37,188.06) rotate(317.24)" text-anchor="end" dy="0.35em">GCST90277389</text>
<text class="l" transform="translate(-213.64,176.31) rotate(320.47)" text-anchor="end" dy="0.35em">GCST90277390</text>
<text class="l" transform="translate(-223.24,164.00) rotate(323.70)" text-anchor="end" dy="0.35em">GCST90277313</text>
<text class="l" transform="translate(-232.12,151.16) rotate(326.93)" text-anchor="end" dy="0.35em">GCST90277287</text>
<text class="l" transform="translate(-240.27,137.85) rotate(330.16)" text-anchor="end" dy="0.35em">GCST90277294</text>
<text class="l" transform="translate(-247.65,124.09) rotate(333.39)" text-anchor="end" dy="0.35em">GCST90277298</text>
<text class="l" transform="translate(-254.25,109.95) rotate(336.61)" text-anchor="end" dy="0.35em">GCST90277365</text>
<text class="r" transform="translate(-260.04,95.45) rotate(339.84)" text-anchor="end" dy="0.35em">GCST90277282</text>
<text class="r" transform="translate(-265.00,80.65) rotate(343.07)" text-anchor="end" dy="0.35em">GCST90277285</text>
<text class="r" transform="translate(-269.12,65.59) rotate(346.30)" text-anchor="end" dy="0.35em">GCST90277246</text>
<text class="r" transform="translate(-272.39,50.33) rotate(349.53)" text-anchor="end" dy="0.35em">GCST90277309</text>
<text class="r" transform="translate(-274.79,34.91) rotate(352.76)" text-anchor="end" dy="0.35em">GCST90277304</text>
<text class="r" transform="translate(-276.32,19.37) rotate(355.99)" text-anchor="end" dy="0.35em">GCST90277347</text>
<text class="l" transform="translate(-276.97,3.78) rotate(359.22)" text-anchor="end" dy="0.35em">GCST90277397</text>
<text class="l" transform="translate(-276.75,-11.83) rotate(362.45)" text-anchor="end" dy="0.35em">GCST90277403</text>
<text class="l" transform="translate(-275.64,-27.40) rotate(365.68)" text-anchor="end" dy="0.35em">GCST90277398</text>
<text class="l" transform="translate(-273.66,-42.88) rotate(368.91)" text-anchor="end" dy="0.35em">GCST90277394</text>
<text class="l" transform="translate(-270.81,-58.23) rotate(372.14)" text-anchor="end" dy="0.35em">GCST90277399</text>
<text class="l" transform="translate(-267.10,-73.39) rotate(375.36)" text-anchor="end" dy="0.35em">GCST90277391</text>
<text class="l" transform="translate(-262.54,-88.32) rotate(378.59)" text-anchor="end" dy="0.35em">GCST90277262</text>
<text class="l" transform="translate(-257.15,-102.97) rotate(381.82)" text-anchor="end" dy="0.35em">GCST90277277</text>
<text class="l" transform="translate(-250.94,-117.29) rotate(385.05)" text-anchor="end" dy="0.35em">GCST90277248</text>
<text class="l" transform="translate(-243.94,-131.24) rotate(388.28)" text-anchor="end" dy="0.35em">GCST90277396</text>
<text class="l" transform="translate(-236.16,-144.78) rotate(391.51)" text-anchor="end" dy="0.35em">GCST90277346</text>
<text class="l" transform="translate(-227.62,-157.85) rotate(394.74)" text-anchor="end" dy="0.35em">GCST90277369</text>
<text class="l" transform="translate(-218.37,-170.42) rotate(397.97)" text-anchor="end" dy="0.35em">GCST90277327</text>
<text class="l" transform="translate(-208.43,-182.45) rotate(401.20)" text-anchor="end" dy="0.35em">GCST90277415</text>
<text class="l" transform="translate(-197.82,-193.90) rotate(404.43)" text-anchor="end" dy="0.35em">GCST90277370</text>
<text class="l" transform="translate(-186.58,-204.74) rotate(407.66)" text-anchor="end" dy="0.35em">GCST90277407</text>
<text class="l" transform="translate(-174.75,-214.92) rotate(410.89)" text-anchor="end" dy="0.35em">GCST90277400</text>
<text class="l" transform="translate(-162.37,-224.42) rotate(414.11)" text-anchor="end" dy="0.35em">GCST90277240</text>
<text class="l" transform="translate(-149.47,-233.21) rotate(417.34)" text-anchor="end" dy="0.35em">GCST90277413</text>
<text class="l" transform="translate(-136.09,-241.26) rotate(420.57)" text-anchor="end" dy="0.35em">GCST90277374</text>
<text class="l" transform="translate(-122.29,-248.55) rotate(423.80)" text-anchor="end" dy="0.35em">GCST90277408</text>
<text class="l" transform="translate(-108.09,-255.04) rotate(427.03)" text-anchor="end" dy="0.35em">GCST90277375</text>
<text class="l" transform="translate(-93.56,-260.72) rotate(430.26)" text-anchor="end" dy="0.35em">GCST90277372</text>
<text class="l" transform="translate(-78.72,-265.58) rotate(433.49)" text-anchor="end" dy="0.35em">GCST90277241</text>
<text class="l" transform="translate(-63.64,-269.59) rotate(436.72)" text-anchor="end" dy="0.35em">GCST90277387</text>
<text class="l" transform="translate(-48.35,-272.75) rotate(439.95)" text-anchor="end" dy="0.35em">GCST90277414</text>
<text class="l" transform="translate(-32.91,-275.04) rotate(443.18)" text-anchor="end" dy="0.35em">GCST90277256</text>
<text class="l" transform="translate(-17.36,-276.46) rotate(446.41)" text-anchor="end" dy="0.35em">GCST90277322</text>
<text class="l" transform="translate(-1.76,-276.99) rotate(449.64)" text-anchor="end" dy="0.35em">GCST90277329</text>
<text class="l" transform="translate(13.84,-276.65) rotate(272.86)" dy="0.35em">GCST90277411</text>
<text class="r" transform="translate(29.41,-275.43) rotate(276.09)" dy="0.35em">GCST90277306</text>
<text class="l" transform="translate(44.87,-273.34) rotate(279.32)" dy="0.35em">GCST90277305</text>
<text class="l" transform="translate(60.20,-270.38) rotate(282.55)" dy="0.35em">GCST90277412</text>
<text class="l" transform="translate(75.33,-266.56) rotate(285.78)" dy="0.35em">GCST90277364</text>
<text class="l" transform="translate(90.23,-261.89) rotate(289.01)" dy="0.35em">GCST90277255</text>
<text class="l" transform="translate(104.84,-256.39) rotate(292.24)" dy="0.35em">GCST90277253</text>
<text class="l" transform="translate(119.12,-250.08) rotate(295.47)" dy="0.35em">GCST90277303</text>
<text class="l" transform="translate(133.01,-242.97) rotate(298.70)" dy="0.35em">GCST90277348</text>
<text class="l" transform="translate(146.49,-235.10) rotate(301.93)" dy="0.35em">GCST90277368</text>
<text class="l" transform="translate(159.50,-226.47) rotate(305.16)" dy="0.35em">GCST90277320</text>
<text class="l" transform="translate(172.00,-217.13) rotate(308.39)" dy="0.35em">GCST90277337</text>
<text class="t" transform="translate(171.95,-198.08) rotate(400.00)" dy="0.35em">IVW</text>
<text class="t" transform="translate(148.81,-171.42) rotate(400.00)" dy="0.35em">MR Egger</text>
<text class="t" transform="translate(125.73,-144.84) rotate(400.00)" dy="0.35em">Weighted median</text>
<path d="M-91.12,33.26A97,97 0 0 0 41.38,87.73L48.80,103.47M-91.12,33.26A97,97 0 0 1 -24.87,-93.76L-27.26,-102.75" fill="none" stroke="#000000" stroke-width="1.2" stroke-linejoin="miter"/>
<path d="M48.80,103.47A114.4,114.4 0 0 0 107.17,40.04L120.37,44.97M120.37,44.97A128.5,128.5 0 0 0 127.10,18.94L143.22,21.34M143.22,21.34A144.8,144.8 0 0 0 144.44,10.19L149.13,10.52M149.13,10.52A149.5,149.5 0 0 0 149.44,4.21L159.34,4.49M149.13,10.52A149.5,149.5 0 0 1 148.55,16.82L153.02,17.32M153.02,17.32A154,154 0 0 0 153.45,13.00L158.83,13.46M153.02,17.32A154,154 0 0 1 152.47,21.63L157.82,22.39M143.22,21.34A144.8,144.8 0 0 1 141.14,32.37L141.82,32.52M141.82,32.52A145.5,145.5 0 0 0 142.68,28.52L156.31,31.24M141.82,32.52A145.5,145.5 0 0 1 140.85,36.51L154.30,39.99M120.37,44.97A128.5,128.5 0 0 1 108.38,69.03L112.35,71.56M112.35,71.56A133.2,133.2 0 0 0 122.60,52.06L136.04,57.77M136.04,57.77A147.8,147.8 0 0 0 139.43,49.03L147.17,51.75M147.17,51.75A156,156 0 0 0 148.57,47.59L151.80,48.62M147.17,51.75A156,156 0 0 1 145.65,55.88L148.82,57.10M136.04,57.77A147.8,147.8 0 0 1 132.11,66.27L138.19,69.32M138.19,69.32A154.6,154.6 0 0 0 140.99,63.42L145.37,65.39M138.19,69.32A154.6,154.6 0 0 1 135.13,75.10L137.67,76.51M137.67,76.51A157.5,157.5 0 0 0 139.77,72.60L141.46,73.47M137.67,76.51A157.5,157.5 0 0 1 135.46,80.36L137.09,81.33M112.35,71.56A133.2,133.2 0 0 1 99.02,89.09L104.59,94.11M104.59,94.11A140.7,140.7 0 0 0 113.35,83.35L120.04,88.27M120.04,88.27A149,149 0 0 0 123.66,83.12L132.29,88.92M120.04,88.27A149,149 0 0 1 116.20,93.26L119.79,96.14M119.79,96.14A153.6,153.6 0 0 0 122.45,92.73L127.08,96.23M119.79,96.14A153.6,153.6 0 0 1 117.03,99.48L121.45,103.24M104.59,94.11A140.7,140.7 0 0 1 94.82,103.95L99.54,109.12M99.54,109.12A147.7,147.7 0 0 0 106.97,101.85L115.44,109.91M99.54,109.12A147.7,147.7 0 0 1 91.61,115.86L94.15,119.07M94.15,119.07A151.8,151.8 0 0 0 100.71,113.58L104.03,117.32M104.03,117.32A156.8,156.8 0 0 0 107.29,114.35L109.07,116.24M104.03,117.32A156.8,156.8 0 0 1 100.68,120.21L102.35,122.20M94.15,119.07A151.8,151.8 0 0 1 87.29,124.19L89.25,126.97M89.25,126.97A155.2,155.2 0 0 0 92.79,124.41L95.30,127.77M89.25,126.97A155.2,155.2 0 0 1 85.64,129.43L87.95,132.94" fill="none" stroke="#DF536B" stroke-width="1.2" stroke-linejoin="miter"/>
<path d="M48.80,103.47A114.4,114.4 0 0 1 -37.28,108.16L-40.31,116.95M-40.31,116.95A123.7,123.7 0 0 0 53.09,111.73L61.72,129.88M61.72,129.88A143.8,143.8 0 0 0 68.94,126.20L73.49,134.54M73.49,134.54A153.3,153.3 0 0 0 77.25,132.41L80.33,137.68M73.49,134.54A153.3,153.3 0 0 1 69.67,136.55L72.44,141.99M61.72,129.88A143.8,143.8 0 0 1 54.30,133.15L57.40,140.74M57.40,140.74A152,152 0 0 0 61.34,139.07L64.33,145.84M57.40,140.74A152,152 0 0 1 53.41,142.31L56.01,149.23M-40.31,116.95A123.7,123.7 0 0 1 -110.65,55.29L-117.18,58.56M-117.18,58.56A131,131 0 0 0 -58.82,117.05L-62.95,125.27M-62.95,125.27A140.2,140.2 0 0 0 4.17,140.14L4.40,147.93M4.40,147.93A148,148 0 0 0 38.11,143.01L39.76,149.19M39.76,149.19A154.4,154.4 0 0 0 46.03,147.38L47.52,152.15M39.76,149.19A154.4,154.4 0 0 1 33.42,150.74L33.92,152.99M33.92,152.99A156.7,156.7 0 0 0 38.21,151.97L38.87,154.59M33.92,152.99A156.7,156.7 0 0 1 29.59,153.88L30.10,156.53M4.40,147.93A148,148 0 0 1 -29.55,145.02L-30.01,147.27M-30.01,147.27A150.3,150.3 0 0 0 0.50,150.30L0.51,153.50M0.51,153.50A153.5,153.5 0 0 0 16.16,152.65L16.61,156.92M16.61,156.92A157.8,157.8 0 0 0 21.02,156.39L21.24,157.98M16.61,156.92A157.8,157.8 0 0 1 12.18,157.33L12.30,158.92M0.51,153.50A153.5,153.5 0 0 1 -15.15,152.75L-15.30,154.24M-15.30,154.24A155,155 0 0 0 -3.31,154.96L-3.35,156.96M-3.35,156.96A157,157 0 0 0 3.28,156.97L3.33,159.37M-3.35,156.96A157,157 0 0 1 -9.98,156.68L-10.08,158.18M-10.08,158.18A158.5,158.5 0 0 0 -5.62,158.40L-5.65,159.30M-10.08,158.18A158.5,158.5 0 0 1 -14.53,157.83L-14.61,158.73M-15.30,154.24A155,155 0 0 1 -27.19,152.60L-27.46,154.07M-27.46,154.07A156.5,156.5 0 0 0 -23.10,154.79L-23.53,157.65M-27.46,154.07A156.5,156.5 0 0 1 -31.79,153.24L-32.38,156.08M-30.01,147.27A150.3,150.3 0 0 1 -59.26,138.12L-59.74,139.23M-59.74,139.23A151.5,151.5 0 0 0 -43.19,145.21L-44.61,150.01M-44.61,150.01A156.5,156.5 0 0 0 -40.37,151.20L-41.12,154.01M-44.61,150.01A156.5,156.5 0 0 1 -48.82,148.69L-49.73,151.45M-59.74,139.23A151.5,151.5 0 0 1 -75.48,131.36L-77.47,134.83M-77.47,134.83A155.5,155.5 0 0 0 -62.82,142.25L-63.63,144.07M-63.63,144.07A157.5,157.5 0 0 0 -57.48,146.64L-58.18,148.40M-63.63,144.07A157.5,157.5 0 0 1 -69.66,141.26L-70.10,142.15M-70.10,142.15A158.5,158.5 0 0 0 -66.07,144.07L-66.44,144.89M-70.10,142.15A158.5,158.5 0 0 1 -74.08,140.12L-74.50,140.92M-77.47,134.83A155.5,155.5 0 0 1 -91.26,125.90L-92.14,127.12M-92.14,127.12A157,157 0 0 0 -84.84,132.10L-85.38,132.95M-85.38,132.95A158,158 0 0 0 -81.60,135.30L-82.32,136.50M-85.38,132.95A158,158 0 0 1 -89.09,130.49L-89.88,131.64M-92.14,127.12A157,157 0 0 1 -99.16,121.72L-100.11,122.89M-100.11,122.89A158.5,158.5 0 0 0 -96.60,125.66L-97.15,126.37M-100.11,122.89A158.5,158.5 0 0 1 -103.53,120.02L-104.12,120.70M-62.95,125.27A140.2,140.2 0 0 1 -114.93,80.29L-117.22,81.90M-117.22,81.90A143,143 0 0 0 -103.61,98.56L-109.19,103.86M-109.19,103.86A150.7,150.7 0 0 0 -104.70,108.39L-110.75,114.64M-109.19,103.86A150.7,150.7 0 0 1 -113.48,99.16L-117.62,102.78M-117.62,102.78A156.2,156.2 0 0 0 -114.68,106.05L-117.03,108.22M-117.62,102.78A156.2,156.2 0 0 1 -120.47,99.42L-122.94,101.46M-117.22,81.90A143,143 0 0 1 -128.18,63.39L-134.55,66.53M-134.55,66.53A150.1,150.1 0 0 0 -125.20,82.79L-126.78,83.84M-126.78,83.84A152,152 0 0 0 -122.50,89.99L-128.46,94.37M-126.78,83.84A152,152 0 0 1 -130.76,77.49L-134.64,79.78M-134.64,79.78A156.5,156.5 0 0 0 -131.14,85.40L-133.57,86.99M-134.64,79.78A156.5,156.5 0 0 1 -137.89,74.02L-139.21,74.73M-139.21,74.73A158,158 0 0 0 -137.05,78.63L-138.26,79.32M-139.21,74.73A158,158 0 0 1 -141.26,70.78L-142.51,71.41M-134.55,66.53A150.1,150.1 0 0 1 -141.80,49.23L-142.08,49.33M-142.08,49.33A150.4,150.4 0 0 0 -138.05,59.70L-146.31,63.27M-142.08,49.33A150.4,150.4 0 0 1 -145.34,38.70L-149.78,39.88M-149.78,39.88A155,155 0 0 0 -146.95,49.29L-149.80,50.24M-149.80,50.24A158,158 0 0 0 -148.32,54.44L-149.64,54.93M-149.80,50.24A158,158 0 0 1 -151.15,46.00L-152.49,46.41M-149.78,39.88A155,155 0 0 1 -152.01,30.31L-154.46,30.80M-154.46,30.80A157.5,157.5 0 0 0 -153.02,37.30L-154.87,37.75M-154.46,30.80A157.5,157.5 0 0 1 -155.62,24.24L-156.61,24.40M-156.61,24.40A158.5,158.5 0 0 0 -155.86,28.80L-156.75,28.96M-156.61,24.40A158.5,158.5 0 0 1 -157.24,19.97L-158.13,20.09M-117.18,58.56A131,131 0 0 1 -128.92,-23.24L-136.60,-24.62M-136.60,-24.62A138.8,138.8 0 0 0 -138.80,-0.55L-146.80,-0.58M-146.80,-0.58A146.8,146.8 0 0 0 -146.44,10.27L-159.01,11.15M-146.80,-0.58A146.8,146.8 0 0 1 -146.35,-11.43L-150.74,-11.77M-150.74,-11.77A151.2,151.2 0 0 0 -151.18,-2.20L-157.28,-2.29M-157.28,-2.29A157.3,157.3 0 0 0 -157.29,2.14L-159.39,2.17M-157.28,-2.29A157.3,157.3 0 0 1 -157.16,-6.72L-159.25,-6.81M-150.74,-11.77A151.2,151.2 0 0 1 -149.69,-21.30L-153.45,-21.84M-153.45,-21.84A155,155 0 0 0 -154.24,-15.33L-158.62,-15.77M-153.45,-21.84A155,155 0 0 1 -152.39,-28.30L-154.85,-28.76M-154.85,-28.76A157.5,157.5 0 0 0 -155.60,-24.38L-157.48,-24.68M-154.85,-28.76A157.5,157.5 0 0 1 -153.98,-33.11L-155.84,-33.51M-136.60,-24.62A138.8,138.8 0 0 1 -130.26,-47.95L-135.32,-49.81M-135.32,-49.81A144.2,144.2 0 0 0 -137.91,-42.11L-145.18,-44.33M-145.18,-44.33A151.8,151.8 0 0 0 -146.37,-40.22L-153.70,-42.23M-145.18,-44.33A151.8,151.8 0 0 1 -143.88,-48.40L-151.08,-50.83M-135.32,-49.81A144.2,144.2 0 0 1 -132.30,-57.36L-137.07,-59.42M-137.07,-59.42A149.4,149.4 0 0 0 -138.69,-55.54L-147.98,-59.26M-137.07,-59.42A149.4,149.4 0 0 1 -135.34,-63.26L-144.40,-67.50" fill="none" stroke="#61D04F" stroke-width="1.2" stroke-linejoin="miter"/>
<path d="M-27.26,-102.75A106.3,106.3 0 0 0 -73.21,-77.07L-89.05,-93.75M-89.05,-93.75A129.3,129.3 0 0 0 -110.71,-66.80L-126.98,-76.62M-126.98,-76.62A148.3,148.3 0 0 0 -130.60,-70.26L-140.37,-75.52M-126.98,-76.62A148.3,148.3 0 0 1 -123.04,-82.78L-127.19,-85.57M-127.19,-85.57A153.3,153.3 0 0 0 -130.70,-80.12L-135.90,-83.31M-127.19,-85.57A153.3,153.3 0 0 1 -123.46,-90.87L-126.44,-93.07M-126.44,-93.07A157,157 0 0 0 -129.01,-89.47L-130.99,-90.83M-126.44,-93.07A157,157 0 0 1 -123.77,-96.59L-125.66,-98.07M-89.05,-93.75A129.3,129.3 0 0 1 -61.03,-113.99L-62.78,-117.25M-62.78,-117.25A133,133 0 0 0 -87.49,-100.17L-96.04,-109.97M-96.04,-109.97A146,146 0 0 0 -107.10,-99.22L-111.87,-103.64M-111.87,-103.64A152.5,152.5 0 0 0 -114.75,-100.45L-119.94,-104.99M-111.87,-103.64A152.5,152.5 0 0 1 -108.91,-106.75L-113.83,-111.58M-96.04,-109.97A146,146 0 0 1 -83.91,-119.48L-84.36,-120.14M-84.36,-120.14A146.8,146.8 0 0 0 -94.21,-112.58L-98.51,-117.72M-98.51,-117.72A153.5,153.5 0 0 0 -103.39,-113.45L-107.37,-117.82M-98.51,-117.72A153.5,153.5 0 0 1 -93.44,-121.78L-94.97,-123.76M-94.97,-123.76A156,156 0 0 0 -98.42,-121.04L-100.56,-123.68M-94.97,-123.76A156,156 0 0 1 -91.44,-126.39L-93.43,-129.14M-84.36,-120.14A146.8,146.8 0 0 1 -73.92,-126.83L-74.78,-128.30M-74.78,-128.30A148.5,148.5 0 0 0 -80.13,-125.03L-86.01,-134.20M-74.78,-128.30A148.5,148.5 0 0 1 -69.29,-131.35L-70.45,-133.56M-70.45,-133.56A151,151 0 0 0 -74.19,-131.52L-78.32,-138.83M-70.45,-133.56A151,151 0 0 1 -66.66,-135.49L-70.37,-143.03M-62.78,-117.25A133,133 0 0 1 -34.87,-128.35L-36.68,-135.01M-36.68,-135.01A139.9,139.9 0 0 0 -50.94,-130.30L-54.07,-138.31M-54.07,-138.31A148.5,148.5 0 0 0 -57.95,-136.73L-62.20,-146.76M-54.07,-138.31A148.5,148.5 0 0 1 -50.16,-139.77L-53.84,-150.03M-36.68,-135.01A139.9,139.9 0 0 1 -21.99,-138.16L-22.57,-141.82M-22.57,-141.82A143.6,143.6 0 0 0 -34.96,-139.28L-36.83,-146.75M-36.83,-146.75A151.3,151.3 0 0 0 -43.00,-145.06L-45.30,-152.83M-36.83,-146.75A151.3,151.3 0 0 1 -30.60,-148.17L-31.22,-151.21M-31.22,-151.21A154.4,154.4 0 0 0 -35.47,-150.27L-36.62,-155.14M-31.22,-151.21A154.4,154.4 0 0 1 -26.95,-152.03L-27.82,-156.95M-22.57,-141.82A143.6,143.6 0 0 1 -10.01,-143.25L-10.41,-149.04M-10.41,-149.04A149.4,149.4 0 0 0 -17.75,-148.34L-18.94,-158.27M-10.41,-149.04A149.4,149.4 0 0 1 -3.06,-149.37L-3.14,-153.47M-3.14,-153.47A153.5,153.5 0 0 0 -9.62,-153.20L-9.99,-159.09M-3.14,-153.47A153.5,153.5 0 0 1 3.35,-153.46L3.42,-156.96M3.42,-156.96A157,157 0 0 0 -1.00,-157.00L-1.01,-159.40M3.42,-156.96A157,157 0 0 1 7.85,-156.80L7.97,-159.20" fill="none" stroke="#2297E6" stroke-width="1.2" stroke-linejoin="miter"/>
<path d="M-27.26,-102.75A106.3,106.3 0 0 1 25.38,-103.23L28.82,-117.21M28.82,-117.21A120.7,120.7 0 0 0 16.19,-119.61L20.39,-150.63M20.39,-150.63A152,152 0 0 0 16.14,-151.14L16.92,-158.50M20.39,-150.63A152,152 0 0 1 24.62,-149.99L25.82,-157.29M28.82,-117.21A120.7,120.7 0 0 1 41.12,-113.48L43.10,-118.93M43.10,-118.93A126.5,126.5 0 0 0 30.96,-122.65L37.94,-150.29M37.94,-150.29A155,155 0 0 0 33.69,-151.30L34.64,-155.59M37.94,-150.29A155,155 0 0 1 42.15,-149.16L43.35,-153.39M43.10,-118.93A126.5,126.5 0 0 1 54.80,-114.01L60.56,-126.00M60.56,-126.00A139.8,139.8 0 0 0 49.24,-130.84L52.49,-139.45M52.49,-139.45A149,149 0 0 0 48.54,-140.87L51.92,-150.71M52.49,-139.45A149,149 0 0 1 56.39,-137.92L60.33,-147.54M60.56,-126.00A139.8,139.8 0 0 1 71.41,-120.19L72.17,-121.48M72.17,-121.48A141.3,141.3 0 0 0 64.33,-125.81L70.43,-137.74M70.43,-137.74A154.7,154.7 0 0 0 66.52,-139.67L68.54,-143.91M70.43,-137.74A154.7,154.7 0 0 1 74.29,-135.70L76.54,-139.82M72.17,-121.48A141.3,141.3 0 0 1 79.73,-116.66L82.77,-121.12M82.77,-121.12A146.7,146.7 0 0 0 77.58,-124.51L84.30,-135.29M82.77,-121.12A146.7,146.7 0 0 1 87.82,-117.51L91.59,-122.56M91.59,-122.56A153,153 0 0 0 88.10,-125.09L91.78,-130.32M91.59,-122.56A153,153 0 0 1 95.01,-119.93L98.98,-124.95" fill="none" stroke="#28E2E5" stroke-width="1.2" stroke-linejoin="miter"/>
</g>
<defs><linearGradient id="lg" x1="0" y1="0" x2="0" y2="1"><stop offset="0.0000" stop-color="#b5265f"/><stop offset="0.0318" stop-color="#b5265f"/><stop offset="0.1252" stop-color="#bf446e"/><stop offset="0.2187" stop-color="#c95c7e"/><stop offset="0.3121" stop-color="#d2738e"/><stop offset="0.4056" stop-color="#db899f"/><stop offset="0.4990" stop-color="#e39eb0"/><stop offset="0.5925" stop-color="#eab4c1"/><stop offset="0.6859" stop-color="#f1c9d2"/><stop offset="0.7793" stop-color="#f7dee4"/><stop offset="0.8728" stop-color="#fdf4f6"/><stop offset="0.9195" stop-color="#ffffff"/><stop offset="0.9289" stop-color="#ddf1f4"/><stop offset="0.9382" stop-color="#b9e2ea"/><stop offset="0.9475" stop-color="#93d4df"/><stop offset="0.9569" stop-color="#68c5d4"/><stop offset="0.9662" stop-color="#28b7ca"/><stop offset="1.0000" stop-color="#28b7ca"/></linearGradient></defs>
<text class="g" x="327.2" y="295.9" font-weight="bold" font-size="13.2">pval</text>
<rect x="326.9" y="303.2" width="16.8" height="100.7" fill="url(#lg)"/>
<path d="M326.9,306.4h4M339.7,306.4h4" stroke="#fff" stroke-width="1"/>
<text class="g" x="346.9" y="311.0">1</text>
<path d="M326.9,325.2h4M339.7,325.2h4" stroke="#fff" stroke-width="1"/>
<text class="g" x="346.9" y="329.8">0.8</text>
<path d="M326.9,344.0h4M339.7,344.0h4" stroke="#fff" stroke-width="1"/>
<text class="g" x="346.9" y="348.6">0.6</text>
<path d="M326.9,362.9h4M339.7,362.9h4" stroke="#fff" stroke-width="1"/>
<text class="g" x="346.9" y="367.5">0.4</text>
<path d="M326.9,381.7h4M339.7,381.7h4" stroke="#fff" stroke-width="1"/>
<text class="g" x="346.9" y="386.3">0.2</text>
<path d="M326.9,400.5h4M339.7,400.5h4" stroke="#fff" stroke-width="1"/>
<text class="g" x="346.9" y="405.1">0</text>
</svg></body></html>
